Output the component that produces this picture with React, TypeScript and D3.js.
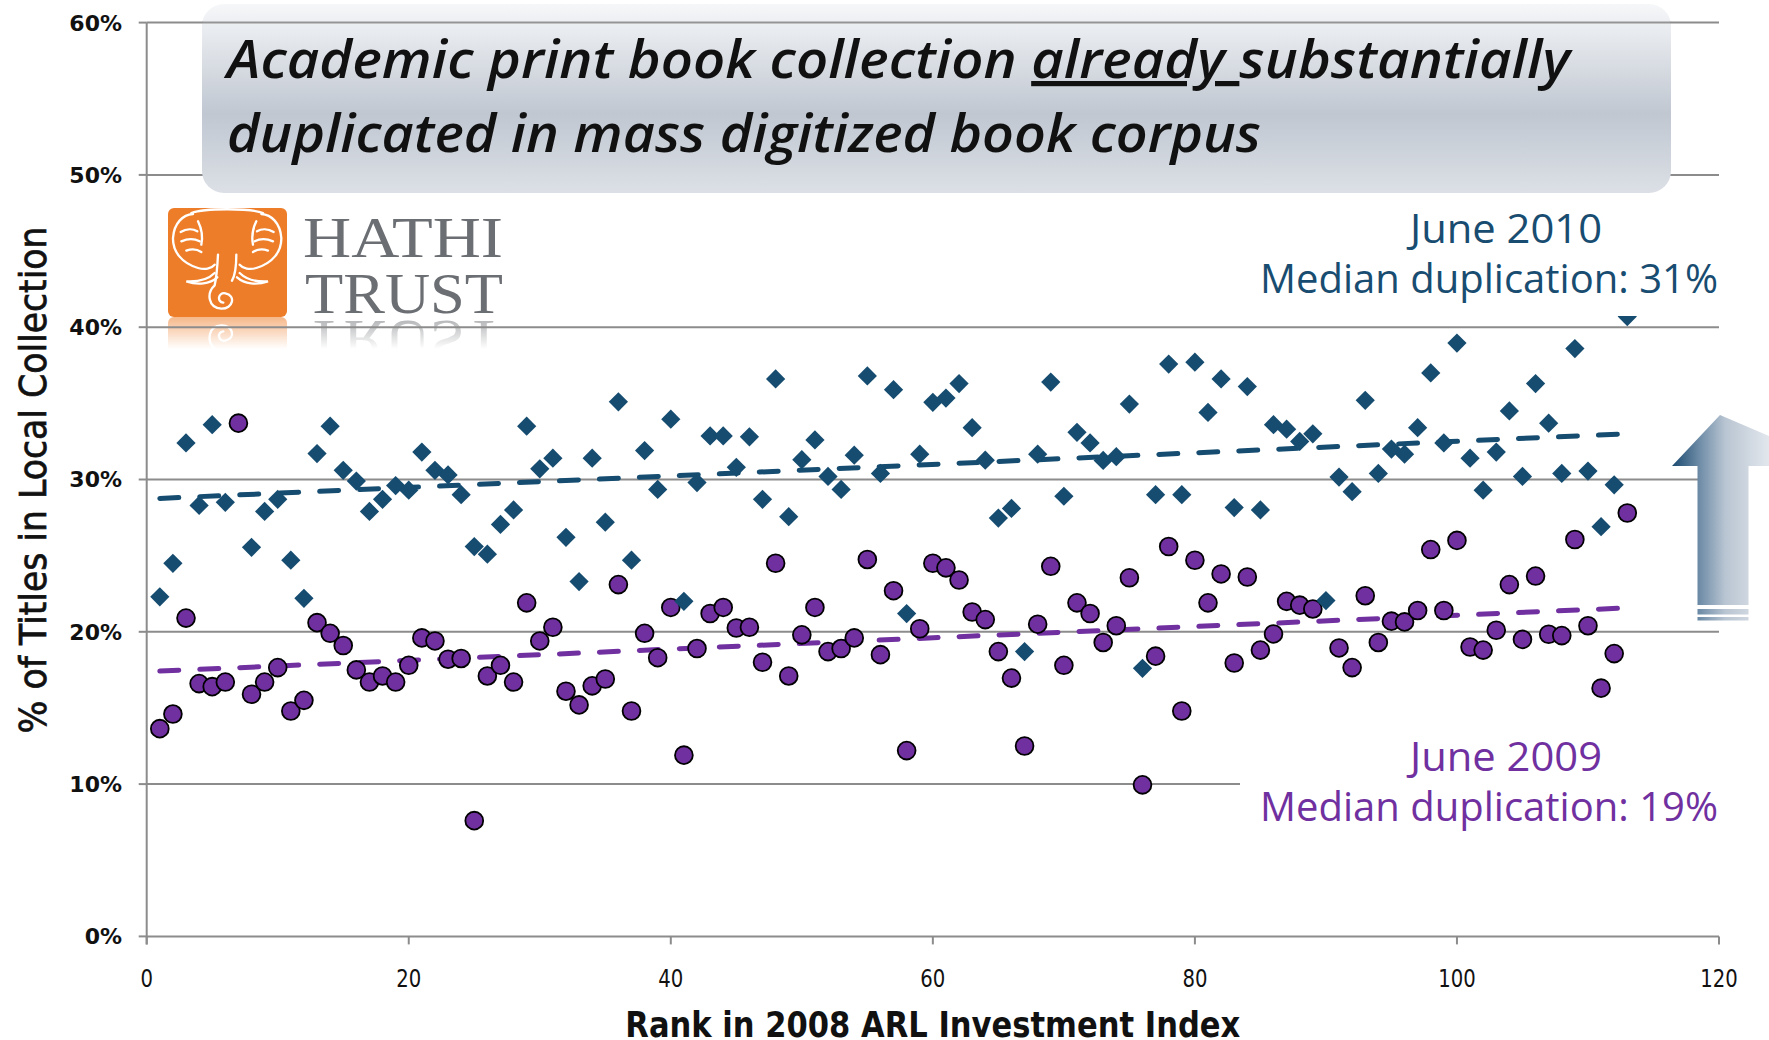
import React, { useEffect } from "react";
import * as d3 from "d3";

// % of titles duplicated, by rank (index + 1) in the 2008 ARL Investment Index
const june2010: (number | null)[] = [
  22.3, 24.5, 32.4, 28.3, 33.6, 28.5, null, 25.55, 27.9, 28.7,
  24.7, 22.2, 31.7, 33.5, 30.6, 29.9, 27.9, 28.7, 29.6, 29.3,
  31.8, 30.6, 30.3, 29.0, 25.6, 25.1, 27.05, 28.0, 33.5, 30.7,
  31.4, 26.2, 23.3, 31.4, 27.2, 35.1, 24.7, 31.9, 29.35, 33.96,
  22.0, 29.8, 32.86, 32.86, 30.8, 32.8, 28.7, 36.6, 27.56, 31.3,
  32.6, 30.2, 29.35, 31.6, 36.8, 30.4, 35.9, 21.2, 31.66, 35.07,
  35.35, 36.3, 33.4, 31.27, 27.47, 28.1, 18.7, 31.66, 36.4, 28.9,
  33.1, 32.4, 31.25, 31.5, 34.95, 17.6, 29.0, 37.58, 29.0, 37.7,
  34.4, 36.6, 28.16, 36.1, 28.0, 33.6, 33.3, 32.5, 33.0, 22.05,
  30.16, 29.2, 35.2, 30.4, 32.0, 31.66, 33.4, 37.0, 32.4, 38.96,
  31.4, 29.3, 31.8, 34.5, 30.2, 36.3, 33.7, 30.4, 38.6, 30.55,
  26.9, 29.65, 40.7,
];

const june2009: (number | null)[] = [
  13.64, 14.6, 20.9, 16.6, 16.4, 16.7, 33.7, 15.9, 16.7, 17.65,
  14.8, 15.5, 20.6, 19.9, 19.1, 17.5, 16.7, 17.1, 16.7, 17.8,
  19.6, 19.4, 18.2, 18.25, 7.6, 17.1, 17.8, 16.7, 21.9, 19.4,
  20.3, 16.1, 15.2, 16.45, 16.9, 23.1, 14.8, 19.9, 18.3, 21.6,
  11.9, 18.9, 21.2, 21.6, 20.25, 20.3, 18.0, 24.5, 17.1, 19.8,
  21.6, 18.7, 18.9, 19.6, 24.75, 18.5, 22.7, 12.2, 20.2, 24.5,
  24.2, 23.4, 21.3, 20.8, 18.7, 16.96, 12.5, 20.5, 24.3, 17.8,
  21.9, 21.2, 19.3, 20.4, 23.55, 9.95, 18.4, 25.6, 14.8, 24.7,
  21.9, 23.8, 17.95, 23.6, 18.8, 19.86, 22.0, 21.75, 21.5, null,
  18.94, 17.65, 22.37, 19.3, 20.7, 20.65, 21.4, 25.4, 21.4, 26.0,
  19.0, 18.8, 20.1, 23.1, 19.5, 23.66, 19.84, 19.75, 26.06, 20.4,
  16.3, 18.57, 27.8,
];

// linear trend lines (end points)
const trendRanks = [1, 113];
const trend2010 = [28.76, 33.0];
const trend2009 = [17.42, 21.57];

const yTicks = [0, 10, 20, 30, 40, 50, 60];
const xTicks = [0, 20, 40, 60, 80, 100, 120];

const titleLine1a = "Academic print book collection ";
const titleLine1b = "already ";
const titleLine1c = "substantially";
const titleLine2 = "duplicated in mass digitized book corpus";
const xTitle = "Rank in 2008 ARL Investment Index";
const yTitle = "% of Titles in Local Collection";
const label2010 = ["June 2010", "Median duplication: 31%"];
const label2009 = ["June 2009", "Median duplication: 19%"];
const logoWords = ["HATHI", "TRUST"];

const W = 1769;
const H = 1040;
const BLUE = "#154C70";
const PURPLE = "#7030A0";
const GRID = "#8C8C8C";

const earPaths = [
  "M75 18 C 45 20, 18 45, 15 90 C 14 130, 40 165, 90 180 C 110 186, 130 182, 140 170",
  "M38 72 C 55 62, 75 62, 88 70",
  "M40 100 C 58 92, 80 92, 95 100",
  "M55 128 C 70 122, 88 124, 100 132",
  "M90 40 C 100 60, 105 85, 100 110",
  "M140 195 C 120 215, 90 222, 55 220 C 90 232, 125 228, 148 208",
];

export default function App() {
  useEffect(() => {
    document.body.style.margin = "0";
  }, []);

  const x = d3.scaleLinear().domain([0, 120]).range([146.7, 1719]);
  const y = d3.scaleLinear().domain([0, 60]).range([936.4, 22.6]);

  const diamond = d3.symbol().type(d3.symbolSquare).size(185)() as string;

  const pts2010 = june2010
    .map((v, i) => ({ r: i + 1, v }))
    .filter((d) => d.v != null) as { r: number; v: number }[];
  const pts2009 = june2009
    .map((v, i) => ({ r: i + 1, v }))
    .filter((d) => d.v != null) as { r: number; v: number }[];

  const trend = d3
    .line<number>()
    .x((_, i) => x(trendRanks[i]))
    .y((d) => y(d));

  const [x0, x1] = x.range();

  return (
    <svg
      width={W}
      height={H}
      style={{ position: "absolute", left: 0, top: 0, display: "block", background: "#fff" }}
      fontFamily="DejaVu Sans"
    >
      <defs>
        <linearGradient id="titleGrad" x1="0" y1="0" x2="0" y2="1">
          <stop offset="0" stopColor="#F6F7F9" />
          <stop offset="0.15" stopColor="#E8EBEF" />
          <stop offset="0.58" stopColor="#C0C7D1" />
          <stop offset="1" stopColor="#DCE0E6" />
        </linearGradient>
        <linearGradient id="arrowGrad" gradientUnits="userSpaceOnUse" x1="1672" y1="0" x2="1769" y2="0">
          <stop offset="0" stopColor="#1B4A70" />
          <stop offset="0.3" stopColor="#7390AA" />
          <stop offset="0.55" stopColor="#B9C5D2" />
          <stop offset="1" stopColor="#E2E7ED" />
        </linearGradient>
        <linearGradient id="reflGrad" x1="0" y1="0" x2="0" y2="1">
          <stop offset="0" stopColor="#fff" stopOpacity={0.55} />
          <stop offset="1" stopColor="#fff" stopOpacity={0} />
        </linearGradient>
        <mask id="reflMask" maskUnits="userSpaceOnUse" x={150} y={317} width={380} height={40}>
          <rect x={150} y={317} width={380} height={32} fill="url(#reflGrad)" />
        </mask>
        <g id="logoG">
          <rect x={168} y={208} width={119} height={109} rx={6} fill="#EE7D29" />
          <g
            transform="translate(168,208) scale(0.3333)"
            fill="none"
            stroke="#fff"
            strokeWidth={7}
            strokeLinecap="round"
          >
            <path d="M70 15 C 110 0, 245 0, 285 15" />
            <g>
              {earPaths.map((p, i) => (
                <path key={"l" + i} d={p} />
              ))}
            </g>
            <g transform="translate(355,0) scale(-1,1)">
              {earPaths.map((p, i) => (
                <path key={"r" + i} d={p} />
              ))}
            </g>
            <path d="M150 140 C 148 180, 145 210, 140 232 C 115 255, 120 300, 160 302 C 195 303, 205 262, 172 256 C 150 252, 146 282, 166 284" />
            <path d="M205 140 C 205 175, 202 200, 192 218" />
          </g>
          <text
            x={303}
            y={257}
            fontFamily="Liberation Serif"
            fontSize={58}
            fill="#6B6E72"
            textLength={200}
            lengthAdjust="spacingAndGlyphs"
          >
            {logoWords[0]}
          </text>
          <text
            x={305}
            y={313}
            fontFamily="Liberation Serif"
            fontSize={58}
            fill="#6B6E72"
            textLength={198}
            lengthAdjust="spacingAndGlyphs"
          >
            {logoWords[1]}
          </text>
        </g>
      </defs>

      {/* logo reflection */}
      <g mask="url(#reflMask)">
        <use href="#logoG" transform="translate(0,634) scale(1,-1)" />
      </g>

      {/* gridlines */}
      <g>
        {yTicks.map((t) => (
          <line key={t} x1={x0} x2={x1} y1={y(t)} y2={y(t)} stroke={GRID} strokeWidth={2} />
        ))}
      </g>

      {/* axes */}
      <line x1={x0} x2={x0} y1={y(60)} y2={y(0) + 8} stroke={GRID} strokeWidth={2} />
      {yTicks.map((t) => (
        <line key={"yt" + t} x1={x0 - 8} x2={x0} y1={y(t)} y2={y(t)} stroke={GRID} strokeWidth={2} />
      ))}
      {xTicks.map((t) => (
        <line key={"xt" + t} x1={x(t)} x2={x(t)} y1={y(0)} y2={y(0) + 8} stroke={GRID} strokeWidth={2} />
      ))}

      {/* y tick labels */}
      {yTicks.map((t) => (
        <text
          key={"yl" + t}
          x={122}
          y={y(t)}
          dy="0.36em"
          textAnchor="end"
          fontFamily="DejaVu Sans"
          fontWeight="bold"
          fontSize={22}
          fill="#111"
        >
          {t}%
        </text>
      ))}

      {/* x tick labels */}
      {xTicks.map((t) => (
        <text
          key={"xl" + t}
          x={x(t)}
          y={987}
          textAnchor="middle"
          fontFamily="DejaVu Sans"
          fontSize={25}
          fill="#111"
          textLength={String(t).length * 12.5}
          lengthAdjust="spacingAndGlyphs"
        >
          {t}
        </text>
      ))}

      {/* axis titles */}
      <text
        x={(x0 + x1) / 2}
        y={1037}
        textAnchor="middle"
        fontFamily="DejaVu Sans"
        fontWeight="bold"
        fontSize={36}
        fill="#111"
        textLength={615}
        lengthAdjust="spacingAndGlyphs"
      >
        {xTitle}
      </text>
      <text
        transform="translate(46,480) rotate(-90)"
        textAnchor="middle"
        fontFamily="DejaVu Sans"
        fontSize={38}
        fill="#111"
        stroke="#111"
        strokeWidth={0.7}
        textLength={507}
        lengthAdjust="spacingAndGlyphs"
      >
        {yTitle}
      </text>

      {/* logo */}
      <use href="#logoG" />

      {/* title box */}
      <rect x={202} y={4} width={1469} height={189} rx={22} fill="url(#titleGrad)" />
      <line x1={202} x2={1671} y1={y(60)} y2={y(60)} stroke={GRID} strokeWidth={2} opacity={0.9} />
      <text
        x={227}
        y={78}
        fontFamily="Open Sans"
        fontStyle="italic"
        fontWeight={600}
        fontSize={52}
        fill="#111"
        textLength={1343}
        lengthAdjust="spacingAndGlyphs"
      >
        <tspan>{titleLine1a}</tspan>
        <tspan style={{ textDecoration: "underline" }}>{titleLine1b}</tspan>
        <tspan>{titleLine1c}</tspan>
      </text>
      <text
        x={227}
        y={152}
        fontFamily="Open Sans"
        fontStyle="italic"
        fontWeight={600}
        fontSize={52}
        fill="#111"
        textLength={1034}
        lengthAdjust="spacingAndGlyphs"
      >
        {titleLine2}
      </text>

      {/* arrow */}
      <path
        d="M1720 415 L1672 466 L1697.5 466 L1697.5 605 L1748.5 605 L1748.5 466 L1769 466 L1769 436 Z"
        fill="url(#arrowGrad)"
      />
      <rect x={1697.5} y={609} width={51} height={5.5} fill="url(#arrowGrad)" />
      <rect x={1697.5} y={617} width={51} height={3.5} fill="url(#arrowGrad)" />

      {/* trend lines */}
      <path
        d={trend(trend2010) as string}
        fill="none"
        stroke={BLUE}
        strokeWidth={5}
        strokeDasharray="19 21"
        strokeLinecap="round"
      />
      <path
        d={trend(trend2009) as string}
        fill="none"
        stroke={PURPLE}
        strokeWidth={5}
        strokeDasharray="19 21"
        strokeLinecap="round"
      />

      {/* 2009 circles */}
      <g>
        {pts2009.map((d) => (
          <circle
            key={"c" + d.r}
            cx={x(d.r)}
            cy={y(d.v)}
            r={8.9}
            fill={PURPLE}
            stroke="#000"
            strokeWidth={1.8}
          />
        ))}
      </g>

      {/* 2010 diamonds */}
      <g>
        {pts2010.map((d) => (
          <path
            key={"d" + d.r}
            d={diamond}
            transform={`translate(${x(d.r)},${y(d.v)}) rotate(45)`}
            fill={BLUE}
          />
        ))}
      </g>

      {/* annotation boxes */}
      <rect x={1240} y={198} width={529} height={118} fill="#fff" />
      <text x={1506} y={243} textAnchor="middle" fontFamily="Open Sans" fontSize={40} fill="#184C70"
        textLength={192} lengthAdjust="spacingAndGlyphs">
        {label2010[0]}
      </text>
      <text x={1718} y={293} textAnchor="end" fontFamily="Open Sans" fontSize={40} fill="#184C70"
        textLength={458} lengthAdjust="spacingAndGlyphs">
        {label2010[1]}
      </text>

      <rect x={1240} y={735} width={529} height={100} fill="#fff" />
      <text x={1506} y={771} textAnchor="middle" fontFamily="Open Sans" fontSize={40} fill={PURPLE}
        textLength={192} lengthAdjust="spacingAndGlyphs">
        {label2009[0]}
      </text>
      <text x={1718} y={821} textAnchor="end" fontFamily="Open Sans" fontSize={40} fill={PURPLE}
        textLength={458} lengthAdjust="spacingAndGlyphs">
        {label2009[1]}
      </text>
    </svg>
  );
}
